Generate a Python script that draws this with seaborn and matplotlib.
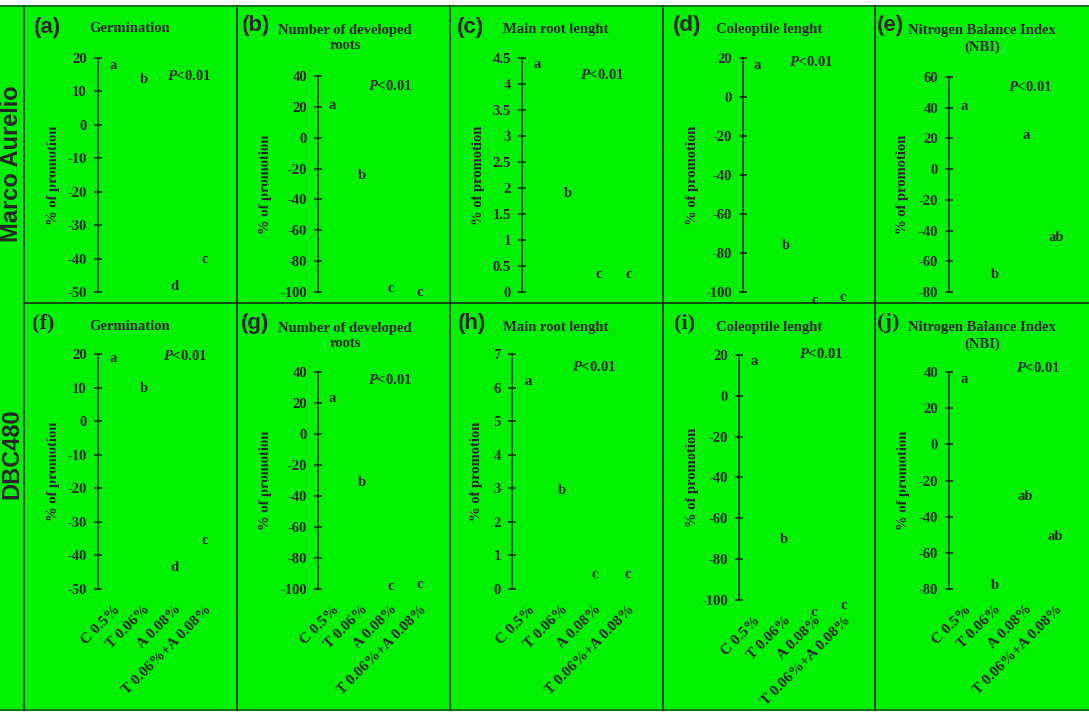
import matplotlib
matplotlib.use("Agg")
import matplotlib.pyplot as plt
import seaborn as sns
from matplotlib.lines import Line2D
from matplotlib.patches import Rectangle

# treatments on the x axis
categories = ["C 0.5%", "T 0.06%", "A 0.08%", "T 0.06%+A 0.08%"]

# Marco Aurelio (top row)
ma_germination = [17.9, 13.7, -48.5, -40.4]
ma_germination_letters = ["a", "b", "d", "c"]
ma_roots = [20.6, -24.2, -98.0, -100.3]
ma_roots_letters = ["a", "b", "c", "c"]
ma_main_root = [4.37, 1.90, 0.33, 0.33]
ma_main_root_letters = ["a", "b", "c", "c"]
ma_coleoptile = [15.9, -76.4, -104.6, -103.0]
ma_coleoptile_letters = ["a", "b", "c", "c"]
ma_nbi = [41.1, -68.9, 22.2, -44.8]
ma_nbi_letters = ["a", "b", "a", "ab"]

# DBC480 (bottom row)
dbc_germination = [18.8, 9.8, -43.7, -35.6]
dbc_germination_letters = ["a", "b", "d", "c"]
dbc_roots = [22.6, -31.6, -98.7, -97.4]
dbc_roots_letters = ["a", "b", "c", "c"]
dbc_main_root = [6.19, 2.93, 0.44, 0.44]
dbc_main_root_letters = ["a", "b", "c", "c"]
dbc_coleoptile = [16.6, -70.2, -106.0, -102.5]
dbc_coleoptile_letters = ["a", "b", "c", "c"]
dbc_nbi = [35.6, -77.8, -28.6, -50.7]
dbc_nbi_letters = ["a", "b", "ab", "ab"]

# y ticks of each panel
ticks_germ = [-50, -40, -30, -20, -10, 0, 10, 20]
ticks_roots = [-100, -80, -60, -40, -20, 0, 20, 40]
ticks_main_ma = [0, 0.5, 1, 1.5, 2, 2.5, 3, 3.5, 4, 4.5]
ticks_main_dbc = [0, 1, 2, 3, 4, 5, 6, 7]
ticks_cole = [-100, -80, -60, -40, -20, 0, 20]
ticks_nbi_ma = [-80, -60, -40, -20, 0, 20, 40, 60]
ticks_nbi_dbc = [-80, -60, -40, -20, 0, 20, 40]

p_text = r"$\mathit{P}$<0.01"

GREEN = "#00f200"
W, H = 1089, 715
SERIF = "Liberation Serif"
SANS = "Liberation Sans"


def px_rect(x0, y0, x1, y1):
    return [x0 / W, 1 - y1 / H, (x1 - x0) / W, (y1 - y0) / H]


def fx(x):
    return x / W


def fy(y):
    return 1 - y / H


# layout: axis x, top, bottom, width (px), ylabel offset, P label (px from axis, y value)
panels = [
    dict(tag="(a)", tag_xy=(47, 27), tag_font=SANS, title="Germination", title_xy=(130, 29),
         values=ma_germination, letters=ma_germination_letters, ticks=ticks_germ,
         axis_x=98, top=58, bottom=292, width=122, ylab=45, p=(69, 14.6), row=0),
    dict(tag="(b)", tag_xy=(256, 26), tag_font=SANS, title="Number of developed\nroots", title_xy=(345, 38),
         values=ma_roots, letters=ma_roots_letters, ticks=ticks_roots,
         axis_x=318, top=76, bottom=292, width=116, ylab=53, p=(50, 33.5), row=0),
    dict(tag="(c)", tag_xy=(470, 27), tag_font=SANS, title="Main root lenght", title_xy=(556, 29),
         values=ma_main_root, letters=ma_main_root_letters, ticks=ticks_main_ma,
         axis_x=522, top=58, bottom=292, width=122, ylab=44, p=(58, 4.17), row=0),
    dict(tag="(d)", tag_xy=(687, 25), tag_font=SANS, title="Coleoptile lenght", title_xy=(769, 29),
         values=ma_coleoptile, letters=ma_coleoptile_letters, ticks=ticks_cole,
         axis_x=743, top=58, bottom=292, width=114, ylab=51, p=(46, 18), row=0),
    dict(tag="(e)", tag_xy=(890, 25), tag_font=SANS, title="Nitrogen Balance Index\n(NBI)", title_xy=(982, 39),
         values=ma_nbi, letters=ma_nbi_letters, ticks=ticks_nbi_ma,
         axis_x=949, top=77, bottom=292, width=123, ylab=47, p=(59, 53.5), row=0),
    dict(tag="(f)", tag_xy=(43, 323), tag_font=SERIF, title="Germination", title_xy=(130, 327),
         values=dbc_germination, letters=dbc_germination_letters, ticks=ticks_germ,
         axis_x=98, top=354, bottom=589, width=122, ylab=45, p=(65, 19.4), row=1),
    dict(tag="(g)", tag_xy=(255, 323), tag_font=SANS, title="Number of developed\nroots", title_xy=(345, 336),
         values=dbc_roots, letters=dbc_roots_letters, ticks=ticks_roots,
         axis_x=318, top=372, bottom=589, width=116, ylab=53, p=(50, 34.8), row=1),
    dict(tag="(h)", tag_xy=(472, 323), tag_font=SANS, title="Main root lenght", title_xy=(556, 327),
         values=dbc_main_root, letters=dbc_main_root_letters, ticks=ticks_main_dbc,
         axis_x=512, top=354, bottom=589, width=132, ylab=36, p=(60, 6.6), row=1),
    dict(tag="(i)", tag_xy=(685, 323), tag_font=SERIF, title="Coleoptile lenght", title_xy=(769, 327),
         values=dbc_coleoptile, letters=dbc_coleoptile_letters, ticks=ticks_cole,
         axis_x=739, top=355, bottom=600, width=120, ylab=47, p=(60, 20.4), row=1),
    dict(tag="(j)", tag_xy=(888, 323), tag_font=SERIF, title="Nitrogen Balance Index\n(NBI)", title_xy=(982, 336),
         values=dbc_nbi, letters=dbc_nbi_letters, ticks=ticks_nbi_dbc,
         axis_x=949, top=372, bottom=589, width=122, ylab=46, p=(67, 42.2), row=1),
]


def draw_panel(fig, spec):
    x0 = spec["axis_x"]
    ax = fig.add_axes(px_rect(x0, spec["top"], x0 + spec["width"], spec["bottom"]))
    ax.set_facecolor("none")

    # bars are the same green as the page, as in the original figure
    sns.barplot(x=categories, y=spec["values"], color=GREEN, saturation=1,
                errorbar=None, width=0.6, linewidth=0, ax=ax)

    ticks = spec["ticks"]
    ax.set_ylim(min(ticks), max(ticks))
    ax.set_yticks(ticks)
    ax.set_yticklabels([f"{t:g}" for t in ticks])
    ax.set_xlim(-0.5, len(categories) - 0.5)

    for s in ["top", "right", "bottom"]:
        ax.spines[s].set_visible(False)
    ax.spines["left"].set_color("#102810")
    ax.spines["left"].set_linewidth(1.1)

    ax.tick_params(axis="y", left=True, direction="inout", length=6, width=1.1,
                   color="#102810", pad=5, labelsize=10.5)
    ax.tick_params(axis="x", bottom=False, length=0, labelsize=10.5)
    for lab in ax.get_yticklabels():
        lab.set_fontweight("bold")

    if spec["row"] == 0:
        ax.set_xticklabels([])
    else:
        ax.tick_params(axis="x", pad=10)
        plt.setp(ax.get_xticklabels(), rotation=45, ha="right",
                 rotation_mode="anchor", fontweight="bold", fontsize=11)

    ax.set_xlabel("")
    ax.set_ylabel("% of promotion", fontsize=10.5, fontweight="bold")
    ax.yaxis.set_label_coords(-(spec["ylab"] - 7) / spec["width"], 0.5)

    for i, (v, letter) in enumerate(zip(spec["values"], spec["letters"])):
        ax.text(i, v, letter, ha="center", va="center", fontsize=10.5,
                fontweight="bold", clip_on=False, zorder=5)

    px, py = spec["p"]
    ax.text(px / spec["width"], py, p_text, transform=ax.get_yaxis_transform(),
            ha="left", va="center", fontsize=10.5, fontweight="bold", clip_on=False)

    tx, ty = spec["title_xy"]
    fig.text(fx(tx), fy(ty), spec["title"], ha="center", va="center", fontsize=10.5,
             fontweight="bold", multialignment="center", linespacing=1.25)
    lx, ly = spec["tag_xy"]
    fig.text(fx(lx), fy(ly), spec["tag"], ha="center", va="center", fontsize=16,
             fontweight="bold", family=spec["tag_font"])


def main():
    sns.set_style("white")
    plt.rcParams["font.family"] = [SERIF, "DejaVu Serif"]
    plt.rcParams["axes.unicode_minus"] = False
    plt.rcParams["mathtext.fontset"] = "custom"
    plt.rcParams["mathtext.it"] = "Liberation Serif:italic:bold"
    plt.rcParams["mathtext.rm"] = "Liberation Serif:bold"

    fig = plt.figure(figsize=(W / 100, H / 100), dpi=100, facecolor="white")

    # green page with the panel grid
    fig.add_artist(Rectangle((0, fy(710)), 1, fy(6) - fy(710), transform=fig.transFigure,
                             facecolor=GREEN, edgecolor="none", zorder=0))
    line_kw = dict(transform=fig.transFigure, color="#1a1a1a", linewidth=1.1, zorder=1)
    for y in [6, 710]:
        fig.add_artist(Line2D([0, 1], [fy(y), fy(y)], transform=fig.transFigure,
                              color="#0a7a0a", linewidth=1.5, zorder=1))
    fig.add_artist(Line2D([fx(24), 1], [fy(303), fy(303)], **line_kw))
    for x in [24, 237, 450, 663, 875]:
        fig.add_artist(Line2D([fx(x), fx(x)], [fy(6), fy(710)], **line_kw))

    fig.text(fx(12), fy(164), "Marco Aurelio", rotation=90, ha="center", va="center",
             fontsize=17, fontweight="bold", family=SANS)
    fig.text(fx(12), fy(454), "DBC480", rotation=90, ha="center", va="center",
             fontsize=17, fontweight="bold", family=SANS)

    for spec in panels:
        draw_panel(fig, spec)

    fig.savefig("out.png", dpi=100, facecolor="white")
    plt.close(fig)


if __name__ == "__main__":
    main()
